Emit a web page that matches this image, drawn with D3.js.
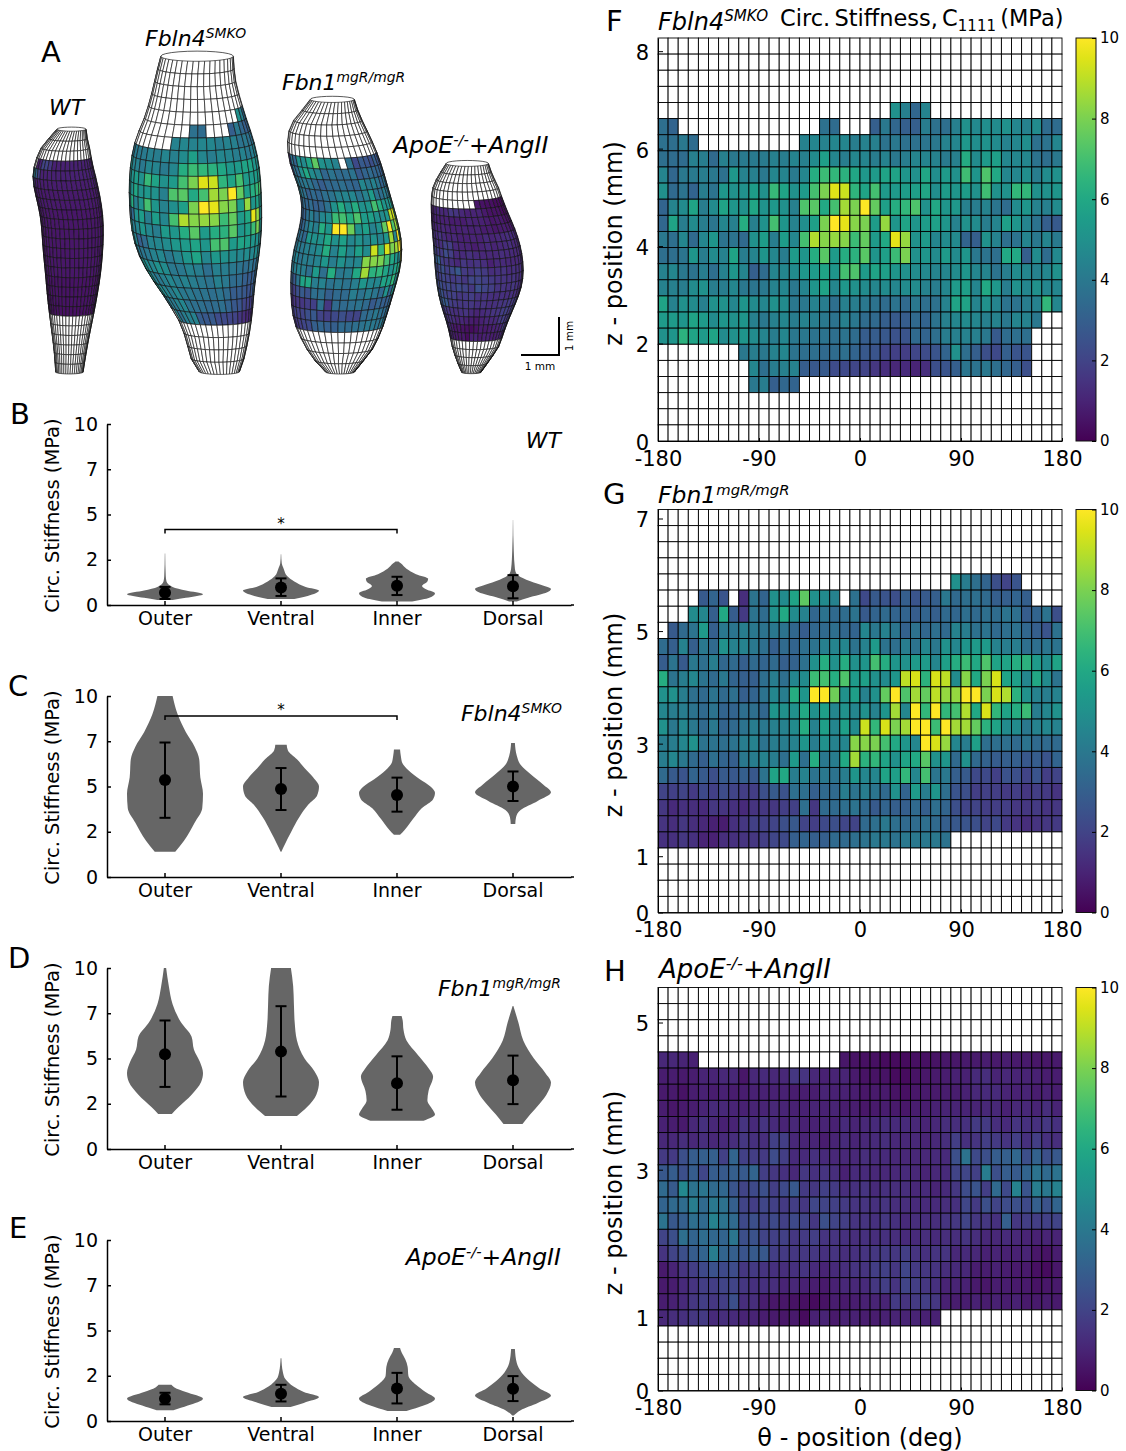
<!DOCTYPE html>
<html>
<head>
<meta charset="utf-8">
<script src="https://cdn.jsdelivr.net/npm/d3@7"></script>
<style>
  body { margin: 0; background: #fff; }
  svg { display: block; font-family: "DejaVu Sans", sans-serif; }
  .axis path, .axis line { stroke: #000; }
</style>
</head>
<body>
<div id="figure"></div>
<script>
const gap = n => Array(n).fill(null)

const regions = ["Outer", "Ventral", "Inner", "Dorsal"]
const stiffnessTicks = [0, 2.5, 5, 7.5, 10]
const thetaTicks = [-180, -90, 0, 90, 180]
const colorbarTicks = [0, 2, 4, 6, 8, 10]

// violin outlines, [stiffness, relative width]
const wtViolins = [
    [[0.28,0.2],[0.4,0.55],[0.6,1],[0.8,0.55],[1,0.2],[1.3,0.04],[1.6,0.02],[2.85,0.005]],
    [[0.33,0.35],[0.5,0.7],[0.8,1],[1,0.65],[1.3,0.35],[1.6,0.16],[2,0.07],[2.3,0.02],[2.8,0.005]],
    [[0.2,0.4],[0.4,0.85],[0.65,1],[0.85,0.78],[1.05,0.66],[1.3,0.8],[1.45,0.82],[1.7,0.5],[2,0.25],[2.3,0.1],[2.4,0.04]],
    [[0.2,0.1],[0.4,0.4],[0.7,0.9],[0.88,1],[1.1,0.75],[1.4,0.35],[1.7,0.1],[2,0.05],[3,0.02],[4.7,0.003]]
]
const fbln4Violins = [
    [[1.4,0.27],[2,0.5],[3,0.78],[3.8,0.98],[4.6,1],[5.5,0.93],[6.5,0.9],[7.2,0.78],[8,0.55],[9,0.33],[10,0.2]],
    [[1.4,0.01],[1.8,0.1],[2.5,0.27],[3.3,0.48],[4,0.72],[4.5,0.95],[5,1],[5.5,0.85],[6,0.63],[6.5,0.42],[7,0.18],[7.3,0.15]],
    [[2.33,0.08],[2.6,0.2],[3.2,0.42],[3.8,0.65],[4.3,0.95],[4.65,1],[5,0.88],[5.4,0.6],[5.9,0.3],[6.3,0.14],[6.7,0.1],[7.05,0.08]],
    [[2.93,0.06],[3.3,0.08],[3.7,0.2],[4.2,0.65],[4.68,1],[5.1,0.8],[5.7,0.45],[6.2,0.2],[6.7,0.1],[7.4,0.05]]
]
const fbn1Violins = [
    [[1.93,0.18],[2.3,0.35],[3,0.7],[3.7,0.95],[4.2,1],[4.8,0.92],[5.5,0.76],[6.2,0.7],[7,0.42],[8,0.2],[9,0.1],[10,0.03]],
    [[1.83,0.42],[2.3,0.68],[3,0.93],[3.7,1],[4.3,0.88],[5,0.62],[6,0.42],[7,0.36],[8,0.34],[9,0.32],[10,0.26]],
    [[1.56,0.7],[1.9,1],[2.2,0.93],[2.7,0.8],[3.2,0.83],[4,0.95],[4.4,0.85],[5.2,0.55],[6,0.25],[6.6,0.17],[7.1,0.15],[7.35,0.12]],
    [[1.38,0.25],[1.9,0.45],[2.5,0.7],[3,0.88],[3.67,1],[4.2,0.85],[5,0.55],[6,0.27],[7,0.14],[7.9,0.01]]
]
const apoeViolins = [
    [[0.59,0.22],[0.85,0.6],[1.23,1],[1.6,0.55],[1.85,0.25],[2,0.17]],
    [[0.77,0.25],[1,0.6],[1.32,1],[1.6,0.6],[1.9,0.33],[2.3,0.12],[2.7,0.05],[3.47,0.01]],
    [[0.55,0.25],[0.85,0.7],[1.23,1],[1.6,0.75],[2,0.5],[2.5,0.3],[3,0.28],[3.4,0.22],[3.8,0.12],[4.04,0.08]],
    [[0.3,0.02],[0.6,0.2],[1,0.65],[1.41,1],[1.8,0.7],[2.2,0.45],[2.7,0.22],[3.2,0.1],[3.98,0.05]]
]

// mean, upper error, lower error per region
const wtStats = [[0.68,1,0.33],[0.97,1.47,0.5],[1.06,1.56,0.55],[1.03,1.65,0.37]]
const fbln4Stats = [[5.36,7.43,3.27],[4.86,6.02,3.7],[4.53,5.49,3.61],[5,5.83,4.2]]
const fbn1Stats = [[5.23,7.1,3.43],[5.38,7.89,2.9],[3.63,5.12,2.17],[3.8,5.16,2.48]]
const apoeStats = [[1.23,1.56,0.92],[1.5,2,1.08],[1.8,2.66,0.97],[1.78,2.48,1.1]]

// circumferential stiffness maps, 25 axial rows (top first) by 40 theta columns
const fbln4Grid = [
    gap(40), gap(40), gap(40), gap(40),
    [...gap(23),5,4.3,3.3,4.5,...gap(13)],
    [3.6,3.2,...gap(14),3.7,3.5,...gap(3),3,4,3.3,3,3,4.2,3.7,3.6,4.3,5,4.7,4.9,4.8,5,4.6,4.4,4.8,3.5,3.5],
    [3.7,3.6,4,3.5,...gap(10),4.4,4.6,4.4,4.6,4.6,4.2,4.4,4.3,3.8,4,3.7,3.7,3.9,4,4.4,4.6,5.3,4.9,5.1,4.8,4.4,4.6,4.9,3.7,3.8,4.6],
    [3.6,3.5,3.5,4.3,4.2,3.4,4.3,4,4.1,4.1,4.1,4.3,4.2,4.5,4.3,4.8,5.6,4.6,4.2,4.6,4.5,4.2,4.4,4,4.2,4.5,4.5,4.4,4.1,4.3,6.1,4.8,5.4,5.6,4.6,4.6,4.6,3.8,3.6,4],
    [4.5,3.3,4,4.1,4.2,4,3.7,5.3,4.4,4.3,4,4.6,4.5,4.1,4.6,6.2,6.8,6.6,6.4,5.9,5.3,5.4,5.8,5.8,5.2,5,5.9,4.9,5.4,5,6.9,5.2,7.2,6,4.6,4.6,4.9,4.2,4.8,5],
    [5,3.4,3.8,3.2,4.2,3.8,5.3,5,5,5.5,5,6.7,5.8,5,5.4,7,8,9.5,9.2,6.5,5.8,7,5.4,5.4,5.5,5.6,5.9,4.9,5.5,5.2,5.5,5,6.9,5,5,6.6,6.6,5,5,5.2],
    [3.2,4.5,4.8,5.8,4.2,4.8,5.8,5.2,5,5.9,5.1,5.3,5,4.3,7.2,7.4,6,7,8.6,8,10,7.6,5.6,6.2,6.6,7.2,5,6,5.2,5.3,4.3,4.2,4.4,3.9,3.5,4.8,5.2,4.4,4.3,4.8],
    [3.3,5.8,4.2,4.8,4.2,3.9,4.6,4.3,6.2,4.3,5.1,7,5.2,4.4,4.9,5.6,8,10,9.6,8.2,8,5.5,8.4,5.2,5.8,5.2,5.5,5.7,5.2,4.4,5,4.8,4.2,4.5,5.6,5.2,4.5,3.8,3,2.8],
    [4,3.6,4.6,3.4,4.6,5.2,3.8,3.8,3.4,5,5.5,4.2,5.5,4.6,7,8.8,8.2,8.4,8.2,6.8,7.6,5.4,6,9.6,8.4,5,5.4,4.6,4.8,4.7,3.2,3,5,4.4,3.6,3.8,4.5,4,4.5,4.1],
    [3.6,3.6,3.9,5.2,4.2,4.8,4.4,5.8,4.2,4.5,5.2,4.6,4.2,5.4,5.2,6.2,7.4,5.4,6.2,6.4,7.4,5.2,5.6,6.8,8,5,5.2,4.8,5.4,4.8,5.2,4,3.8,3.6,6,6,3,4.8,3.5,4.7],
    [4.4,4.6,4,3.8,4.2,3.6,4.4,5.2,4.5,3,3.5,4.5,4.6,4.8,5.3,5.4,5.8,5.2,7,7.2,5.4,5.8,5.6,5.2,5,4.8,4.7,4.5,4.6,4.8,5.2,4.6,4.5,3.8,4.2,4.8,4.6,4.4,4.6,5],
    [4.4,4.3,4.2,4.8,5,4.2,4.2,4.6,4,3.9,4,4.4,4.6,4,4.5,5.2,5.8,4.6,5.3,5,4.8,4.6,4.8,4.6,4.8,4.8,4.4,4.2,4.6,5.4,5.6,4.6,6,5.3,4.2,5,4.6,5,4.6,4.6],
    [5.8,4.4,5,4.8,4.3,5,5,4.6,5.2,4.8,4.6,5,4.8,4,4,4.4,4.2,3.6,4.3,4.2,4,3.8,3.5,3.8,3.4,4,3.6,3.7,4.4,5.8,5.8,4.5,5,4.5,3.8,3.8,4.2,4.4,6.6,4.6],
    [5.4,5.4,5.2,5.8,5.4,4.8,5.2,5,5.2,4.3,4,4.3,4.6,4.2,4.4,4.2,4,3.8,4.3,4,3.5,3.4,3,2.8,2.9,3.4,3.2,3.8,4.3,4.6,4.8,4.6,4.3,4.4,4,4.5,4.4,4,null,null],
    [5,5.2,6.4,5.8,5.4,5.8,4.8,5,5.2,4.8,4.5,4.2,4.6,4,4,3.8,3.8,3.6,3.8,3.5,2.9,2.9,2.7,2.5,2.6,3.4,3.2,3.6,4.2,4.3,4.4,4.3,4,2.8,3.5,3.6,3.6,null,null,null],
    [...gap(8),4,4.2,4,4.4,4.6,3.8,3.6,3.6,3.4,3.5,3.6,3.2,2.7,2.6,2.1,1.9,1.8,2.1,2.3,2.6,3.2,5,3.6,3,2.4,2.2,3,2.6,2.6,...gap(3)],
    [...gap(9),4.6,3.6,4.2,4.3,4.4,2.9,2.7,2.8,2.3,2.2,2.1,2,1.6,1.3,1.1,1.2,1,1.3,2.4,2.6,3,3.9,3.8,4,3.6,3.3,3,2.4,...gap(3)],
    [...gap(9),4,4.2,3,3.3,3.2,...gap(26)],
    gap(40), gap(40), gap(40)
]
const fbn1Grid = [
    gap(40), gap(40), gap(40), gap(40),
    [...gap(29),5,4.2,3.6,3.2,2.4,2,2.6,...gap(4)],
    [...gap(4),2.8,3.2,2.6,null,1.3,3.8,3.2,5,4.8,5.8,7.5,5,4.8,4.4,null,3.7,2.2,2.8,2.6,2.4,3,2.6,2.8,3,4,3.4,3.6,3.6,3.4,3,3,3.2,3,...gap(3)],
    [...gap(3),4.8,4.6,3,6,2.9,1.7,3.8,3.5,5,6,4.8,4.4,3.3,3.8,3.4,3.5,3.8,2.8,3.2,3.4,3.2,3.2,2.9,3.2,3,3.4,3.3,3.6,3.4,3.6,3.5,3.8,3.6,2.9,3.2,3.8,2.4],
    [null,2.8,3.4,3.8,5.4,3,4,3.9,4.2,4,3.8,4,3.8,3.3,2.9,3.3,3.4,3.6,3.3,3.2,4.6,4,4.4,3.9,3.1,3.7,3.3,3.6,3.4,4.4,4.2,3.7,3.8,3.4,3.6,3.7,3.3,3,2.6,3.7],
    [3.5,3,4.4,3,4,3.4,5,4.4,4.4,4,3.6,3,3.4,3.2,3.6,3.8,4.3,4.5,4.6,3.8,4.4,5.4,3.8,3.6,4.2,3.8,4.6,4,5,4.6,5.2,5.4,5.4,4.4,4.2,4.2,3.6,3.6,3.9,3.8],
    [2.9,3.8,2.8,4,3.6,4.2,3.3,3.4,3,3.4,3.2,3.4,3,3.1,3.7,5,6.2,5,6.2,5,5.2,7,6.2,5.2,5,5.4,5.4,4.6,5.6,6.2,6.8,6,7.2,5.8,5.8,6.2,6.4,5.4,4.8,5.8],
    [6.2,3.8,4.2,4.6,3.8,3.4,4,3.2,3,3,3.6,4.2,3.6,4.6,4.8,6.8,7,6.2,7.2,5.4,5.6,5,4.8,5.2,9,9.4,6.4,9.4,9,4.8,8.2,6,8,9.4,5.8,5.6,4.6,6,4.8,3.8],
    [5,5,4.2,3.6,3.4,3.8,3.4,3.6,3,3.2,3.8,4.6,4.2,6.2,5.2,10,10,7.8,5,5.6,4.4,5,7.6,10,7.2,8.6,7.6,9,8.4,8.4,10,10,8,9.4,8.8,6.4,5,4.4,4.2,4.4],
    [4.6,4.2,4.2,3.8,3.4,3.8,3.2,3.2,3.6,3.6,3.3,5.2,5,5,6,5,5.6,4.6,5,4.6,5,4.4,5.2,8.6,4.6,10,6.6,10,6.6,7,8.8,6,9.4,6.6,5.8,6.2,6.8,4.2,4.6,5],
    [5,4,4.6,4,3.4,4,3.2,3.4,3.8,4.2,4,4.3,4.4,4.8,6.2,4.4,5.6,4.6,5.6,4.8,9.2,6.6,9.4,8,8.6,10,10,6.8,10,8.6,8.6,7.6,6.4,5.8,4.8,4.8,4,4.4,4.6,4.4],
    [4.2,4.2,4.6,5,3.8,3.8,3.6,3.8,4.2,4.4,3.8,4.2,4.2,4.4,5.2,4.2,5,4.4,4.6,8.2,8.2,8,7,6,5.2,4.6,10,9.4,8.4,4.6,4.2,5.6,3.6,3.6,3.6,3.4,3.8,3.4,3.4,3.4],
    [4.2,4.6,4,3.4,3,3.6,3.2,3,4,4.2,4.4,4.2,3.6,5.4,3.6,6.2,4,4.2,6,8.6,6.4,6.6,5.8,5,5.8,6,7.4,5,5.2,3.4,5,3.4,3.1,2.9,3,3,2.7,2.9,2.6,3.2],
    [3.4,2.8,2.6,3.2,2.8,2.4,2.8,2.7,3,2.7,3.8,5.8,6,4.2,4.4,3.8,4,3.8,4.2,5.2,4.6,4.6,5.8,5.6,6.6,4.6,7,3.9,4,3,2.8,2.2,2.2,1.9,2.5,2.4,2,2.6,1.8,2],
    [2,1.9,2,1.7,2.2,1.9,2.3,2,1.8,1.8,2.4,2.8,2.5,3.6,3.6,3,3.4,3.4,4.2,3.8,4.2,3.9,3.4,5,3.2,5.4,4.2,5.2,3.6,2.6,2.4,1.8,1.9,1.8,1.7,1.8,1.6,1.8,1.7,1.5],
    [1.6,1.2,1.4,1.3,1.2,1.6,1.5,1.4,1.2,1.5,1.6,1.6,1.8,1.9,3.6,1.6,3.4,3.4,3.6,3.8,3.4,2.8,3.2,3,3,3.4,3,3.6,3.2,2.4,2,2,1.8,1.8,1.8,1.6,1.6,1.7,1.5,1.6],
    [1.5,1.3,1.6,1.3,1.1,0.9,0.8,1.4,1.6,1.9,1.9,2,2.4,2.7,2,1.8,2.2,2.4,2.1,2,3.4,3.6,4,3.6,3.4,3.5,3.6,3.4,3,2.7,2.6,2.4,2,2.2,1.7,1.5,1.3,1.5,1.6,1.7],
    [1.4,1.4,1.6,1.4,1,0.9,1.3,1.4,1.5,1.6,1.8,2.1,2.2,3,3.2,3,3,3.4,3.4,3.6,3.8,4,4,3.8,4,4,4,4,3.8,...gap(11)],
    gap(40), gap(40), gap(40), gap(40)
]
const apoeGrid = [
    gap(40), gap(40), gap(40), gap(40),
    [1.1,1.1,1,0.9,...gap(14),0.6,0.5,0.4,0.4,0.3,0.3,0.3,0.4,0.4,0.5,0.6,0.6,0.7,0.7,0.8,0.7,0.8,0.7,0.7,0.6,0.6,0.7],
    [0.8,0.8,0.7,0.8,1,1,1.1,1.1,0.6,1.1,1.2,1.1,1.1,1.6,1.5,1.1,0.9,1,1,0.7,0.5,0.5,0.5,0.3,0.3,0.5,0.6,0.7,0.8,0.9,0.9,1.2,1.3,1,1.1,1,1,0.9,0.8,0.8],
    [0.7,0.7,0.5,0.8,0.9,0.8,0.9,0.8,0.8,0.9,0.9,0.9,0.9,0.8,0.8,0.8,1,0.9,0.9,0.8,0.6,0.7,0.7,0.5,0.4,0.6,0.7,0.7,0.8,0.8,0.9,1.1,1.2,1.2,1,0.9,1,0.8,0.9,0.8],
    [0.8,0.6,0.7,0.8,1,1.2,1.1,1,0.9,1,1,1.1,1,0.9,0.9,1,0.9,1,0.8,0.8,0.6,0.7,0.8,0.7,0.6,0.8,0.8,0.9,1,1,1,1,1.1,1.1,0.9,1.1,1.1,1,1.3,1],
    [0.9,0.8,0.7,1.1,1.4,1.1,0.9,1,1.5,1.2,1.5,1.2,1,1.1,0.9,0.9,1,0.9,1.2,1,1.1,1.2,1.3,1.2,1.2,1.1,1,1.1,1.3,1.3,1.4,1.7,1.7,1.3,1.2,1.5,1.4,1.4,1.6,1.4],
    [1.1,1.1,1.3,1.1,1.3,1.1,1.2,1.3,1.6,1.4,1.3,1.9,1.8,1.1,1,1,0.8,1,1.2,1,1.1,1.2,1.3,1.1,1.1,1.1,1,1.1,1.3,1.8,1.4,1.5,1.8,1.7,1.5,1.8,1.4,1.8,1.4,1.3],
    [1.7,1.7,2.4,2.9,3,3,1.9,3.2,1.9,1.8,1.7,2.3,1.8,1.2,1.2,1.4,1.2,1.1,1.1,1.1,1.3,1.2,1.2,1.1,1.1,1.1,1.1,1.2,1.2,2.4,3.8,2.2,2.4,2.9,3,3.3,2.4,3.1,2.4,2.7],
    [2.7,2.9,2.4,2.9,2.1,2.9,2.8,3,2.8,3.2,1.8,1.6,1.4,1.1,1.6,1.4,1.5,1.3,0.9,1.2,1.2,1.1,1.1,1.1,1.2,1.1,1,1.1,1.2,2,2.1,1.9,4.2,2.4,2.9,2.8,3.2,3.8,3.4,3.8],
    [3.4,2.8,4.7,3.8,3.9,3.4,3.3,2.6,2,2.2,2.4,1.8,2.2,2.7,1.7,1.6,1.9,1.7,1.3,1.4,1.5,1.2,1.4,1.3,1.3,1.1,1.2,1,1.2,1.6,2.3,2.6,1.8,3.4,2.2,4.4,2.6,4.2,4,4.4],
    [3.2,3.4,3.5,4.2,3.4,4,3.7,3,2,1.8,2.1,1.9,1.7,1.8,1.6,2.1,2,1.9,1.7,1.5,1.5,1.4,1.5,1.3,1.3,1.2,1.2,1.2,1.3,1.4,2.1,1.7,2.4,2,2.3,2.4,2.2,3,2.5,3.2],
    [3.8,2.7,3,3.6,3.4,4.4,3.8,3.4,2.2,2.4,2,2.2,1.9,2.2,2,1.6,2.4,2,1.8,1.5,1.5,1.4,1.6,1.4,1.2,1.3,1.3,1.3,1.5,1.6,2,1.6,1.6,1.4,3,1.6,1.8,1.8,1.9,2],
    [2,2.4,3.6,3.2,3.5,3.3,3.2,3.9,2.4,2.5,2,1.9,1.9,1.6,1.7,1.8,1.5,1.5,1.4,1.3,1.4,1.3,1.4,1.3,1.2,1.2,1.3,1.2,1.3,1.3,1.5,1.3,1.1,1.1,1.2,1.1,1,0.9,1,1],
    [1.5,2,2.4,2.9,3.2,4.2,3.2,3,2.6,2.8,2.7,1.8,1.7,1.6,1.6,1.6,1.4,1.5,1.3,1.4,1.5,1.6,1.7,1.6,1.8,1.5,1.4,1.5,1.5,1.1,1.2,1.1,0.9,1,0.9,0.9,1,0.6,0.5,0.8],
    [0.7,1,1.5,1.8,2.2,2.5,2.2,2.3,1.6,1.7,1.5,1.4,1.3,1.4,1.5,1.2,1,1.2,1.3,1.5,1.5,1.8,1.9,1.6,2.1,1.7,1.6,1.5,1.3,1.2,1.1,0.8,0.8,0.9,0.8,0.7,0.7,0.4,0.3,0.6],
    [0.7,0.8,1.2,1.5,1.8,1.8,2,2,1.6,1.4,1.4,1.3,1,1.1,0.9,0.8,0.7,0.9,1.1,1.1,1.2,1.6,1.8,1.5,2,1.8,1.6,1.4,1,1,0.9,0.7,0.6,0.8,0.8,0.7,0.7,0.5,0.6,0.7],
    [0.8,0.9,1.2,1.6,1.8,1.6,1.8,2.4,1.3,1.3,0.8,0.6,0.6,0.5,0.4,0.3,0.5,0.8,0.7,0.8,0.9,1,1,1.7,1.5,1.7,1.8,1.6,0.9,0.8,0.8,0.9,0.8,0.9,0.8,0.9,0.7,0.7,0.8,0.7],
    [1.1,1.3,1.4,1.6,1.7,1.2,1.3,1.2,1,1,0.8,0.7,0.6,0.7,0.3,0.9,1,0.7,0.9,0.9,0.8,0.8,0.9,1,1,1,0.9,0.9,...gap(12)],
    gap(40), gap(40), gap(40), gap(40)
]
// WT has no map of its own in the figure, only its mesh: one level per axial row
const wtRowLevels = [null,null,null,0.9,0.9,0.8,0.7,0.7,0.6,0.6,0.6,0.6,0.6,0.6,0.6,0.5,0.5,0.5,0.4,null,null,null,null,null,null]
// row, column, level for the few cells that differ near the WT top edge
const wtPatches = [[3,7,null],[3,8,null],[3,9,0.8],[3,11,2],[3,12,2],[3,13,1.6],[4,7,4],[4,8,4.4],[4,9,3],[4,10,1.8],[5,7,2.2],[5,8,1.6]]
const wtGrid = wtRowLevels.map(v => Array(40).fill(v))
wtPatches.forEach(([r, c, v]) => { wtGrid[r][c] = v })

// vessel silhouettes, [z mm, left mm, right mm]
const wtOutline = [[6.39,-0.32,0.45],[6.12,-0.55,0.48],[5.86,-0.76,0.55],[5.51,-0.89,0.6],[5.16,-0.97,0.69],[4.72,-0.91,0.79],[4.19,-0.76,0.89],[3.67,-0.71,0.91],[3.14,-0.68,0.89],[2.61,-0.62,0.84],[2.09,-0.58,0.76],[1.56,-0.52,0.66],[1.04,-0.45,0.55],[0.51,-0.38,0.45],[0,-0.35,0.37]]
const fbln4Outline = [[8.27,-0.91,1],[7.7,-1.06,1.03],[7.18,-1.16,1.16],[6.56,-1.36,1.36],[6.04,-1.59,1.53],[5.42,-1.71,1.68],[4.81,-1.75,1.73],[4.11,-1.73,1.75],[3.49,-1.66,1.74],[2.88,-1.46,1.66],[2.26,-1.06,1.56],[1.65,-0.6,1.51],[1.17,-0.35,1.46],[0.68,-0.2,1.36],[0.25,-0.1,1.26],[0,0.1,1.16]]
const fbn1Outline = [[7.16,-0.91,0.25],[6.82,-1.16,0.35],[6.47,-1.46,0.5],[5.95,-1.53,0.76],[5.42,-1.46,0.96],[4.89,-1.23,1.11],[4.37,-1.11,1.26],[3.84,-1.16,1.41],[3.32,-1.31,1.51],[2.79,-1.41,1.49],[2.26,-1.43,1.36],[1.65,-1.41,1.16],[1.12,-1.31,1.01],[0.6,-1.01,0.76],[0.25,-0.76,0.45],[0,-0.5,0.25]]
const apoeOutline = [[5.48,-0.81,0.3],[5.16,-1.01,0.4],[4.81,-1.19,0.58],[4.37,-1.21,0.71],[3.84,-1.19,0.96],[3.32,-1.14,1.14],[2.79,-1.11,1.23],[2.26,-1.06,1.21],[1.74,-0.96,1.01],[1.21,-0.76,0.76],[0.68,-0.66,0.6],[0.33,-0.55,0.35],[0,-0.4,0.1]]

const width = 1126, height = 1451
const svg = d3.select("#figure").append("svg")
    .attr("width", width).attr("height", height)
    .attr("viewBox", [0, 0, width, height])

const color = d3.scaleSequential(d3.interpolateViridis).domain([0, 10])

function panelLetter(text, x, y) {
    svg.append("text").attr("x", x).attr("y", y).attr("font-size", 29).text(text)
}

// italic genotype name with its superscript
function genotype(parent, x, y, name, sup, tail, size, anchor) {
    const t = parent.append("text").attr("x", x).attr("y", y)
        .attr("font-size", size).attr("font-style", "italic")
        .attr("text-anchor", anchor || "start")
    t.append("tspan").text(name)
    t.append("tspan").attr("font-size", size * 0.63).attr("dy", -size * 0.36).text(sup)
    if (tail) t.append("tspan").attr("dy", size * 0.36).text(tail)
    return t
}

// ---- panel A, meshes built from the same maps ----
const mmPx = 38
const meshBase = 373
const meshZ = d3.scaleLinear().domain([0, 1]).range([meshBase, meshBase - mmPx])
const meshGroup = svg.append("g")

// lastRow: rows below it stay white on the mesh, they sit out of view there
function drawVessel(grid, outline, axisX, zTop, theta0, lastRow) {
    const zs = outline.map(d => d[0])
    const index = d3.scaleLinear().domain(zs).range(zs.map((d, i) => i / (zs.length - 1))).clamp(true)
    const leftCurve = d3.interpolateBasis(outline.map(d => d[1]))
    const rightCurve = d3.interpolateBasis(outline.map(d => d[2]))
    const left = z => leftCurve(index(z))
    const right = z => rightCurve(index(z))
    const mmX = d3.scaleLinear().domain([0, 1]).range([axisX, axisX + mmPx])
    const rowZ = d3.scaleLinear().domain([0, 25]).range([zTop, 0])
    const colTheta = d3.scaleLinear().domain([0, 40]).range([-180, 180])
    const node = (c, r) => {
        const rel = (Math.max(-90, Math.min(90, colTheta(c) - theta0))) * Math.PI / 180
        const z = rowZ(r)
        const mid = (left(z) + right(z)) / 2, rad = (right(z) - left(z)) / 2
        return [mmX(mid + rad * Math.sin(rel)), meshZ(z) + 0.14 * rad * mmPx * (Math.cos(rel) - 0.5)]
    }
    const cells = []
    grid.forEach((row, r) => row.forEach((v, c) => {
        const a = colTheta(c) - theta0, b = colTheta(c + 1) - theta0
        if (b > -90 && a < 90) cells.push({ r, c, v: r > lastRow ? null : v })
    }))
    const quad = d3.line()
    // back rim of the top opening
    const backRim = d3.range(90, 271, 15).map(deg => {
        const z = zTop, rad = (right(z) - left(z)) / 2, mid = (left(z) + right(z)) / 2
        const rel = deg * Math.PI / 180
        return [mmX(mid + rad * Math.sin(rel)), meshZ(z) + 0.14 * rad * mmPx * (Math.cos(rel) - 0.5)]
    })
    meshGroup.append("path").attr("d", quad(backRim)).attr("fill", "#fff")
        .attr("stroke", "#111").attr("stroke-width", 0.7)
    meshGroup.append("g").selectAll("path").data(cells).join("path")
        .attr("d", d => quad([node(d.c, d.r), node(d.c + 1, d.r), node(d.c + 1, d.r + 1), node(d.c, d.r + 1)]) + "Z")
        .attr("fill", d => d.v == null ? "#fff" : color(d.v))
        .attr("stroke", "#111").attr("stroke-width", 0.65)
}

drawVessel(wtGrid, wtOutline, 69, 6.39, -30, 24)
drawVessel(fbln4Grid, fbln4Outline, 195.4, 8.27, -30, 20)
drawVessel(fbn1Grid, fbn1Outline, 344.8, 7.16, -25, 24)
drawVessel(apoeGrid, apoeOutline, 477, 5.476, -30, 24)

panelLetter("A", 41, 62)
genotype(svg, 49, 115, "WT", "", "", 22)
genotype(svg, 145, 46, "Fbln4", "SMKO", "", 22)
genotype(svg, 282, 90, "Fbn1", "mgR/mgR", "", 22)
genotype(svg, 393, 153, "ApoE", "-/-", "+AngII", 23.5)

// scale bar, one mm each way
const barX = d3.scaleLinear().domain([0, 1]).range([521, 521 + mmPx])
const barY = d3.scaleLinear().domain([0, 1]).range([355, 355 - mmPx])
svg.append("path")
    .attr("d", d3.line()([[barX(0), barY(0)], [barX(1), barY(0)], [barX(1), barY(1)]]))
    .attr("fill", "none").attr("stroke", "#000").attr("stroke-width", 2)
svg.append("text").attr("x", barX(0.5)).attr("y", 370).attr("font-size", 10.5)
    .attr("text-anchor", "middle").text("1 mm")
svg.append("text").attr("transform", `translate(${barX(1) + 14},${barY(0.5)}) rotate(-90)`)
    .attr("font-size", 10.5).attr("text-anchor", "middle").text("1 mm")

// ---- panels B to E, violins ----
const violinX = d3.scaleBand().domain(regions).range([107, 571])
const halfWidth = 38

function violinPanel(top, violins, stats, bracketAt) {
    const bottom = top + 181
    const y = d3.scaleLinear().domain([0, 10]).range([bottom, top])
    const g = svg.append("g")

    const area = d3.area()
        .y(d => y(d[0]))
        .x0(d => -halfWidth * d[1])
        .x1(d => halfWidth * d[1])
        .curve(d3.curveMonotoneY)

    const xAxis = d3.axisBottom(violinX).tickSizeInner(-4).tickSizeOuter(0).tickPadding(7)
    const yAxis = d3.axisLeft(y).tickValues(stiffnessTicks).tickFormat(d => Math.floor(d))
        .tickSizeInner(-4).tickSizeOuter(0).tickPadding(9)

    const cat = g.selectAll("g.violin").data(regions).join("g").attr("class", "violin")
        .attr("transform", d => `translate(${violinX(d) + violinX.bandwidth() / 2},0)`)
    cat.append("path")
        .attr("d", (d, i) => area(violins[i]))
        .attr("fill", "#666")
    cat.append("line")
        .attr("y1", (d, i) => y(stats[i][1])).attr("y2", (d, i) => y(stats[i][2]))
        .attr("stroke", "#000").attr("stroke-width", 2)
    ;[1, 2].forEach(k => cat.append("line")
        .attr("x1", -5.5).attr("x2", 5.5)
        .attr("y1", (d, i) => y(stats[i][k])).attr("y2", (d, i) => y(stats[i][k]))
        .attr("stroke", "#000").attr("stroke-width", 2))
    cat.append("circle").attr("r", 6).attr("cy", (d, i) => y(stats[i][0])).attr("fill", "#000")

    g.append("g").attr("class", "axis").attr("transform", `translate(0,${bottom})`).call(xAxis)
        .call(a => a.selectAll("path,line").attr("stroke-width", 1.5))
        .call(a => a.selectAll("text").attr("font-size", 19).attr("font-family", "DejaVu Sans"))
    g.append("line").attr("x1", 571).attr("x2", 574).attr("y1", bottom).attr("y2", bottom)
        .attr("stroke", "#000").attr("stroke-width", 1.5)
    g.append("g").attr("class", "axis").attr("transform", "translate(107,0)").call(yAxis)
        .call(a => a.selectAll("path,line").attr("stroke-width", 1.5))
        .call(a => a.selectAll("text").attr("font-size", 19).attr("font-family", "DejaVu Sans"))

    g.append("text").attr("transform", `translate(59,${y(5) + 1}) rotate(-90)`)
        .attr("text-anchor", "middle").attr("font-size", 19.5).text("Circ. Stiffness (MPa)")

    if (bracketAt != null) {
        const xa = violinX("Outer") + violinX.bandwidth() / 2
        const xb = violinX("Inner") + violinX.bandwidth() / 2
        g.append("path")
            .attr("d", d3.line()([[xa, y(bracketAt) + 4], [xa, y(bracketAt)], [xb, y(bracketAt)], [xb, y(bracketAt) + 4]]))
            .attr("fill", "none").attr("stroke", "#000").attr("stroke-width", 1.5)
        g.append("text").attr("x", (xa + xb) / 2).attr("y", y(bracketAt) - 1)
            .attr("text-anchor", "middle").attr("font-size", 15).text("*")
    }
    return g
}

violinPanel(424, wtViolins, wtStats, 4.17)
violinPanel(696, fbln4Violins, fbln4Stats, 8.9)
violinPanel(968, fbn1Violins, fbn1Stats, null)
violinPanel(1240, apoeViolins, apoeStats, null)

panelLetter("B", 10, 424)
panelLetter("C", 8, 696)
panelLetter("D", 8, 968)
panelLetter("E", 9, 1238)
genotype(svg, 561, 448, "WT", "", "", 22, "end")
genotype(svg, 562, 721, "Fbln4", "SMKO", "", 22, "end")
genotype(svg, 561, 996, "Fbn1", "mgR/mgR", "", 22, "end")
genotype(svg, 561, 1265, "ApoE", "-/-", "+AngII", 23.5, "end")

// ---- panels F to H, maps ----
const mapX = d3.scaleLinear().domain([-180, 180]).range([658, 1062])
const cellTheta = d3.scaleLinear().domain([0, 40]).range([-180, 180])

function mapPanel(top, grid, zTop, zTicks) {
    const bottom = top + 403
    const y = d3.scaleLinear().domain([0, zTop]).range([bottom, top])
    const rowZ = d3.scaleLinear().domain([0, 25]).range([zTop, 0])
    const g = svg.append("g")
    const cells = grid.flatMap((row, r) => row.map((v, c) => ({ r, c, v })))

    g.selectAll("rect").data(cells).join("rect")
        .attr("x", d => mapX(cellTheta(d.c)))
        .attr("y", d => y(rowZ(d.r)))
        .attr("width", d => mapX(cellTheta(d.c + 1)) - mapX(cellTheta(d.c)))
        .attr("height", d => y(rowZ(d.r + 1)) - y(rowZ(d.r)))
        .attr("fill", d => d.v == null ? "#fff" : color(d.v))
        .attr("stroke", "#000").attr("stroke-width", 0.9)

    g.append("g").attr("class", "axis").attr("transform", `translate(0,${bottom})`)
        .call(d3.axisBottom(mapX).tickValues(thetaTicks).tickFormat(d => String(d))
            .tickSizeInner(-3).tickSizeOuter(0).tickPadding(10))
        .call(a => a.selectAll("text").attr("font-size", 21).attr("font-family", "DejaVu Sans"))
    g.append("g").attr("class", "axis").attr("transform", "translate(658,0)")
        .call(d3.axisLeft(y).tickValues(zTicks).tickFormat(d => String(d))
            .tickSizeInner(-5).tickSizeOuter(0).tickPadding(9))
        .call(a => a.selectAll("text").attr("font-size", 21).attr("font-family", "DejaVu Sans").attr("dy", "0.4em"))

    g.append("text").attr("transform", `translate(622,${(top + bottom) / 2 + 4}) rotate(-90)`)
        .attr("text-anchor", "middle").attr("font-size", 24).text("z - position (mm)")

    // colorbar
    const gradId = "viridis" + Math.round(top)
    const grad = svg.append("defs").append("linearGradient").attr("id", gradId)
        .attr("x1", 0).attr("y1", 1).attr("x2", 0).attr("y2", 0)
    grad.selectAll("stop").data(d3.range(0, 1.01, 0.05)).join("stop")
        .attr("offset", d => d).attr("stop-color", d => d3.interpolateViridis(d))
    const barScale = d3.scaleLinear().domain([0, 10]).range([bottom, top])
    g.append("rect").attr("x", 1076).attr("y", top).attr("width", 20).attr("height", bottom - top)
        .attr("fill", `url(#${gradId})`).attr("stroke", "#111").attr("stroke-width", 1)
    g.append("g").attr("class", "axis").attr("transform", "translate(1096,0)")
        .call(d3.axisRight(barScale).tickValues(colorbarTicks).tickSizeInner(-4).tickSizeOuter(0).tickPadding(4))
        .call(a => a.select(".domain").remove())
        .call(a => a.selectAll("text").attr("font-size", 15).attr("font-family", "DejaVu Sans"))
}

mapPanel(38, fbln4Grid, 8.27, [0, 2, 4, 6, 8])
mapPanel(509.5, fbn1Grid, 7.16, [0, 1, 3, 5, 7])
mapPanel(987.5, apoeGrid, 5.476, [0, 1, 3, 5])

panelLetter("F", 606, 31)
panelLetter("G", 603, 504)
panelLetter("H", 604, 981)

genotype(svg, 658, 30, "Fbln4", "SMKO", "", 24)
const mapTitle = svg.append("text").attr("x", 780).attr("y", 26).attr("font-size", 22.5).attr("word-spacing", -3)
mapTitle.append("tspan").text("Circ. Stiffness, C")
mapTitle.append("tspan").attr("font-size", 15).attr("dy", 5).text("1111")
mapTitle.append("tspan").attr("dy", -5).text(" (MPa)")
genotype(svg, 658, 503, "Fbn1", "mgR/mgR", "", 23.5)
genotype(svg, 659, 978, "ApoE", "-/-", "+AngII", 26)

svg.append("text").attr("x", 860).attr("y", 1446).attr("text-anchor", "middle")
    .attr("font-size", 24).text("θ - position (deg)")
</script>
</body>
</html>
